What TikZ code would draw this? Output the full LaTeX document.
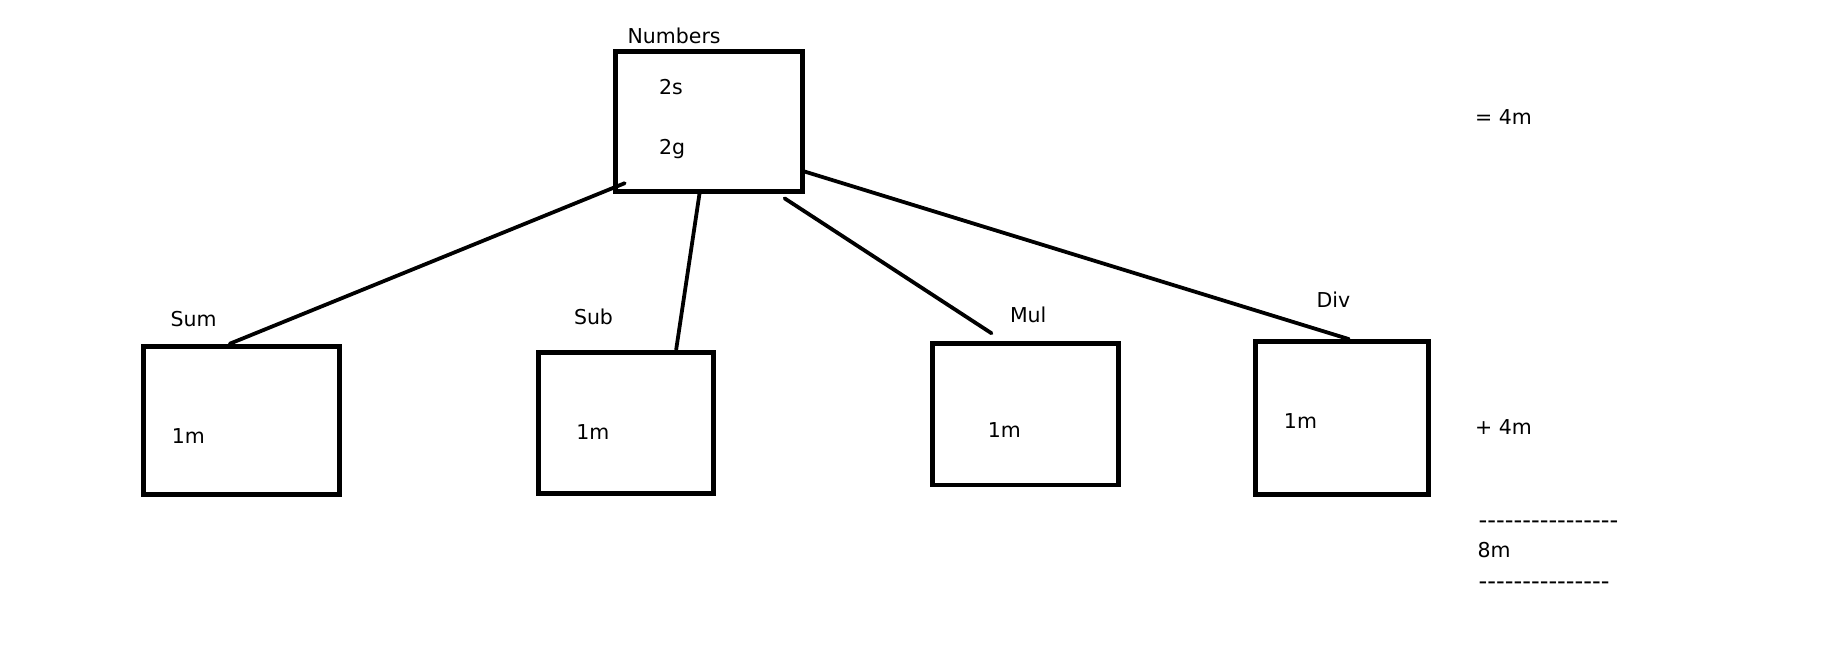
\documentclass[tikz,border=0pt]{standalone}
\usepackage{fontspec}
\setmainfont{DejaVu Sans}
\newfontfamily\dashfont{DejaVu Sans}[Ligatures=TeXOff]
\usetikzlibrary{calc}

\tikzset{
	box/.style={draw, line width=0.85mm, inner sep=0pt},
	txt/.style={anchor=west, inner sep=0pt, font=\fontsize{10}{12}\selectfont},
	rule/.style={txt, font=\dashfont\fontsize{11.8}{12}\selectfont},
	link/.style={line width=0.65mm, line cap=round}
}

\begin{document}
\begin{tikzpicture}[x=0.2mm, y=-0.2mm]
	
	\useasboundingbox[fill=white] (0,0) rectangle (1568,556);
	
	\node[box, minimum width=32mm, minimum height=24mm] (num) at (608,104) {};
	\node[box, minimum width=33.6mm, minimum height=25.4mm] (sum) at (207,360.5) {};
	\node[box, minimum width=30mm, minimum height=24.2mm] (sub) at (537,362.5) {};
	\node[box, minimum width=31.8mm, minimum height=24.2mm] (mul) at (879.5,355.5) {};
	\node[box, minimum width=29.6mm, minimum height=26.2mm] (div) at (1151,358.5) {};
	
	\node[txt] (numlbl) at (538,31) {Numbers};
	\node[txt] (s) at (565,75) {2s};
	\node[txt] (g) at (565,128) {2g};
	
	\node[txt] (sumlbl) at (146,274) {Sum};
	\node[txt] (sublbl) at (492,272) {Sub};
	\node[txt] (mullbl) at (866,270) {Mul};
	\node[txt] (divlbl) at (1129,257) {Div};
	
	\node[txt] (sumval) at (147,374) {1m};
	\node[txt] (subval) at (494,371) {1m};
	\node[txt] (mulval) at (847,369) {1m};
	\node[txt] (divval) at (1101,361) {1m};
	
	\node[txt] (eq) at (1265,100) {= 4m};
	\node[txt] (plus) at (1265,366) {+ 4m};
	\node[rule] (rule1) at (1268,450) {----------------};
	\node[txt] (total) at (1267,472) {8m};
	\node[rule] (rule2) at (1268,502) {---------------};
	
	\draw[link] ($(num.south west)+(10,-9)$) -- ($(sum.north)+(-10,0)$);
	\draw[link] ($(num.south)+(-8,0)$) -- ($(sub.north)+(43,0)$);
	\draw[link] ($(num.south)+(65,4)$) -- ($(mul.north)+(-29,-7)$);
	\draw[link] ($(num.south east)+(0,-19)$) -- ($(div.north)+(6,0)$);
	
\end{tikzpicture}
\end{document}
